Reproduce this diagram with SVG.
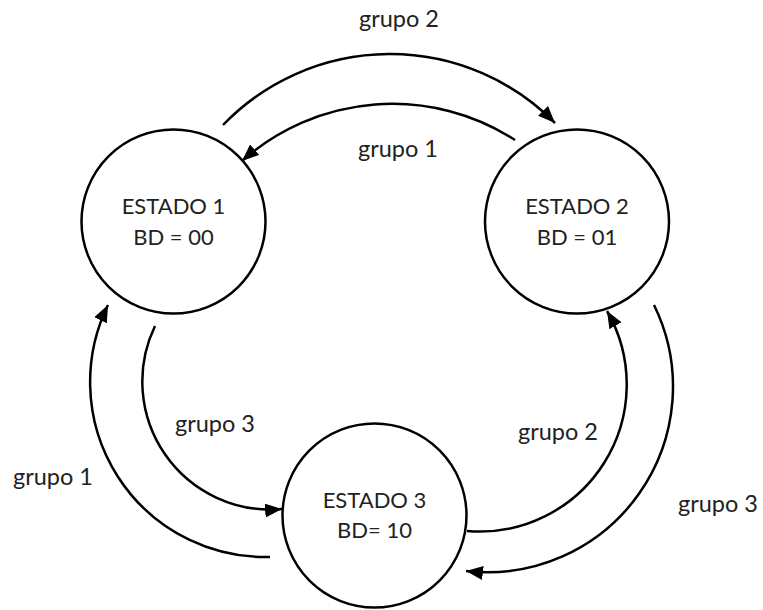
<svg xmlns="http://www.w3.org/2000/svg" width="763" height="610" viewBox="0 0 763 610">
<style>
.node circle{fill:#fff;stroke:#000;stroke-width:2.5}
text{font-family:Lato,"Liberation Sans",sans-serif;font-size:22px;fill:#222;text-anchor:middle}
#labels text{font-size:23.5px}
.conn path{fill:none;stroke:#000;stroke-width:2.5;marker-end:url(#ah)}
</style>
<defs>
<marker id="ah" markerUnits="userSpaceOnUse" markerWidth="19" markerHeight="15" refX="17" refY="7" orient="auto">
<path d="M0,0 L17,7 L0,14 z" fill="#000"/>
</marker>
</defs>
<rect width="763" height="610" fill="#fff"/>
<g id="e1"><g class="node"><circle cx="173.5" cy="221.5" r="92"/></g>
<text x="173.5" y="214">ESTADO 1</text><text x="173.5" y="245">BD = 00</text></g>
<g id="e2"><g class="node"><circle cx="577" cy="221.5" r="92"/></g>
<text x="577" y="214">ESTADO 2</text><text x="577" y="245">BD = 01</text></g>
<g id="e3"><g class="node"><circle cx="374.5" cy="515.5" r="92"/></g>
<text x="374.5" y="508">ESTADO 3</text><text x="374.5" y="538">BD= 10</text></g>
<g id="connectors" class="conn">
<path d="M223,125 A232,232 0 0,1 555,123"/>
<path d="M515,140 A226,226 0 0,0 242,161"/>
<path d="M270,557 A175,175 0 0,1 108,305"/>
<path d="M155,326 A128,128 0 0,0 282,509"/>
<path d="M467,531 A147,147 0 0,0 607,311"/>
<path d="M654,305 A185.5,185.5 0 0,1 466,571"/>
</g>
<g id="labels">
<text x="399" y="27">grupo 2</text>
<text x="398" y="157">grupo 1</text>
<text x="215" y="432">grupo 3</text>
<text x="53" y="485">grupo 1</text>
<text x="558" y="440">grupo 2</text>
<text x="718" y="512">grupo 3</text>
</g>
</svg>
